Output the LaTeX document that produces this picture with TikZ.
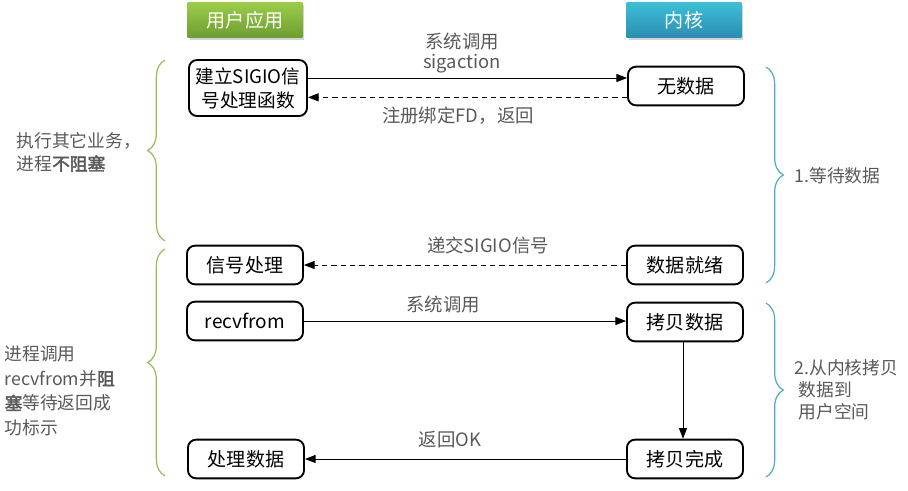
\documentclass[tikz,border=0pt]{standalone}
\usepackage{fontspec}
\setmainfont{Noto Sans CJK SC}[AutoFakeBold=2.5]
\usetikzlibrary{arrows.meta,decorations.pathreplacing,shadows,calc}
\definecolor{txtgray}{HTML}{595959}
\definecolor{grnA}{HTML}{9BCB4C}
\definecolor{grnB}{HTML}{6E9E2F}
\definecolor{bluA}{HTML}{40BCDB}
\definecolor{bluB}{HTML}{2A8FAE}
\definecolor{grnBrace}{HTML}{9BBB59}
\definecolor{bluBrace}{HTML}{4BACC6}
\tikzset{
  box/.style={draw=black, line width=1.4pt, rounded corners=6pt, fill=white,
    minimum width=87pt, minimum height=29pt, inner sep=2pt, font=\fontsize{14.3}{16}\selectfont, align=center},
  header/.style={minimum width=86pt, minimum height=26pt, text=white,
    font=\fontsize{14.3}{16}\selectfont, drop shadow={opacity=0.35, shadow xshift=1.5pt, shadow yshift=-2pt}},
  lbl/.style={text=txtgray, font=\fontsize{13.8}{16}\selectfont, align=center},
  side/.style={text=txtgray, align=left, anchor=west},
  arr/.style={line width=0.7pt, -{Triangle[length=8pt,width=6pt]}},
  darr/.style={arr, dashed, dash pattern=on 4pt off 3pt},
  gbrace/.style={draw=grnBrace, line width=0.9pt, decorate, decoration={brace, amplitude=13pt}},
  bbrace/.style={draw=bluBrace, line width=0.9pt, decorate, decoration={brace, amplitude=13pt}},
}
\begin{document}
\begin{tikzpicture}[x=0.75pt,y=-0.75pt]
\useasboundingbox (0,0) rectangle (908,490);
% headers
\node[header, top color=grnA, bottom color=grnB] (hu) at (245,20) {用户应用};
\node[header, top color=bluA, bottom color=bluB] (hk) at (684,20) {内核};
% boxes
\node[box, minimum width=88.5pt, minimum height=42pt, font=\fontsize{14}{18}\selectfont] (reg) at (248,88) {建立SIGIO信\\号处理函数};
\node[box] (nodata) at (686,86) {无数据};
\node[box] (sig) at (245,265) {信号处理};
\node[box] (ready) at (685,265) {数据就绪};
\node[box] (recv) at (245,321) {recvfrom};
\node[box] (copy) at (685,322) {拷贝数据};
\node[box] (proc) at (246,459) {处理数据};
\node[box] (done) at (685,459) {拷贝完成};
% connectors
\draw[arr] ([yshift=7.5pt]reg.east) -- ([yshift=7.5pt]reg.east -| nodata.west);
\draw[darr] ([yshift=-7pt]reg.east -| nodata.west) -- ([yshift=-7pt]reg.east);
\node[lbl] (l1) at (462,53) {系统调用\\[-1pt]sigaction};
\node[lbl] (l2) at (458,116) {注册绑定FD，返回};
\draw[darr] (ready.west) -- (sig.east);
\node[lbl] (l3) at (488,245) {递交SIGIO信号};
\draw[arr] (recv.east) -- (recv.east -| copy.west);
\node[lbl] (l4) at (443,305) {系统调用};
\draw[arr] ([xshift=-1.5pt]copy.south) -- ([xshift=-1.5pt]done.north);
\draw[arr] (done.west) -- (proc.east);
\node[lbl] (l5) at (450,440) {返回OK};
% braces
\coordinate (gb1t) at (165,60);
\coordinate (gb1b) at (165,241);
\coordinate (gb2t) at (165,249);
\coordinate (gb2b) at (165,476);
\draw[gbrace] (gb1b) -- (gb1t);
\draw[gbrace] (gb2b) -- (gb2t);
\coordinate (bb1t) at (766,67);
\coordinate (bb1b) at (766,283);
\coordinate (bb2t) at (766,303);
\coordinate (bb2b) at (766,477);
\draw[bbrace] (bb1t) -- (bb1b);
\draw[bbrace] (bb2t) -- (bb2b);
% side texts
\node[side, font=\fontsize{13.3}{17.5}\selectfont] (s1) at (12,152) {执行其它业务，\\进程\textbf{不阻塞}};
\node[side, font=\fontsize{13.3}{18.5}\selectfont] (s2) at (0,391) {进程调用\\recvfrom并\textbf{阻}\\\textbf{塞}等待返回成\\功标示};
\node[side, font=\fontsize{13.3}{16}\selectfont] (s3) at (790,176) {1.等待数据};
\node[side, font=\fontsize{13.3}{16.5}\selectfont] (s4) at (790,390) {2.从内核拷贝\\\ 数据到\\\ 用户空间};
\end{tikzpicture}
\end{document}
